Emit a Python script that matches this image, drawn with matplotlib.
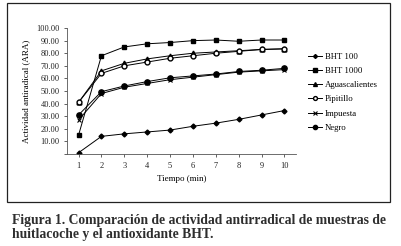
import matplotlib.pyplot as plt
from matplotlib.patches import Rectangle

plt.rcParams['font.family'] = ['Liberation Serif', 'DejaVu Serif']

tiempo = [1, 2, 3, 4, 5, 6, 7, 8, 9, 10]
bht_100 = [1, 14, 16, 17.5, 19, 22, 24.5, 27.5, 31, 34.5]
bht_1000 = [15, 78, 85, 87.5, 88.5, 90, 90.5, 89.5, 90.5, 90.5]
aguascalientes = [41, 66, 72, 75.5, 78, 80, 81, 82, 83, 83.5]
pipitillo = [41, 64, 70, 73, 76, 78, 80, 81.5, 83, 83.5]
impuesta = [27, 48, 53, 56, 59, 61, 63, 65, 66, 67]
negro = [31, 49.5, 54, 57.5, 60.5, 62, 63.5, 65.5, 66.5, 68]

series = [
    ("BHT 100", bht_100, dict(marker='D', ms=2.5, mfc='black')),
    ("BHT 1000", bht_1000, dict(marker='s', ms=2.8, mfc='black')),
    ("Aguascalientes", aguascalientes, dict(marker='^', ms=3.5, mfc='black')),
    ("Pipitillo", pipitillo, dict(marker='o', ms=3.5, mfc='white')),
    ("Impuesta", impuesta, dict(marker='x', ms=3.5, mew=0.8)),
    ("Negro", negro, dict(marker='o', ms=3.8, mfc='black')),
]

fig = plt.figure(figsize=(4.02, 2.46), dpi=100)
ax = fig.add_axes([0.167, 0.374, 0.569, 0.512])

for name, vals, st in series:
    ax.plot(tiempo, vals, color='black', lw=0.7, mec='black', label=name, **st)

ax.set_xlim(0.5, 10.5)
ax.set_ylim(0, 100)
ax.set_xticks(tiempo)
ax.set_yticks(range(0, 101, 10))
ax.set_yticklabels(['' if v == 0 else '%.2f' % v for v in range(0, 101, 10)])
ax.tick_params(labelsize=6, length=2, width=0.5, colors='#222222')
for s in ['top', 'right']:
    ax.spines[s].set_visible(False)
for s in ['left', 'bottom']:
    ax.spines[s].set_linewidth(0.6)
    ax.spines[s].set_color('#555555')

ax.set_xlabel("Tiempo (min)", fontsize=6.5, labelpad=4)
ax.set_ylabel("Actividad antiradical (ARA)", fontsize=6.5, labelpad=4)

leg = ax.legend(loc='center left', bbox_to_anchor=(1.02, 0.49), frameon=False,
                fontsize=6.3, handlelength=1.6, labelspacing=0.7, handletextpad=0.3,
                markerscale=0.8)

fig.patches.append(Rectangle((0.017, 0.179), 0.953, 0.809, transform=fig.transFigure,
                             fill=False, edgecolor='#222222', lw=0.9))

fig.text(0.03, 0.075, "Figura 1. Comparación de actividad antirradical de muestras de\nhuitlacoche y el antioxidante BHT.",
         fontsize=9.8, fontweight='bold', color='#2e2e2e', va='center', ha='left', linespacing=1.15)

fig.savefig('out.png', dpi=100, facecolor='white')
